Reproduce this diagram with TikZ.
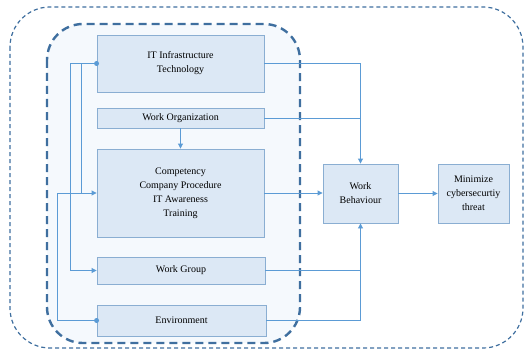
\documentclass[tikz,border=0pt]{standalone}
\usepackage{fontspec}
\setmainfont{Liberation Serif}
\usetikzlibrary{arrows.meta}
\definecolor{boxfill}{HTML}{DCE8F5}
\definecolor{boxline}{HTML}{8AAED2}
\definecolor{wire}{HTML}{5B9BD5}
\definecolor{dashblue}{HTML}{3F6F9F}
\definecolor{groupfill}{HTML}{F5F9FD}
\begin{document}
\begin{tikzpicture}[x=1pt,y=-1pt,
  box/.style={draw=boxline, fill=boxfill, line width=0.9pt, align=center,
    font=\fontsize{10}{14}\selectfont, inner sep=0pt},
  wire/.style={draw=wire, line width=0.9pt},
  arr/.style={wire, -{Triangle[length=5pt,width=5pt]}},
  dot/.style={circle, fill=wire, inner sep=0pt, minimum size=5pt}]
\useasboundingbox (0,0) rectangle (525,353);
% outer frame
\draw[dashblue, line width=1.2pt, dash pattern=on 4pt off 3pt, rounded corners=40pt]
  (10,7) rectangle (523,348);
% group of factors
\draw[dashblue, fill=groupfill, line width=2.4pt, dash pattern=on 8pt off 5pt, rounded corners=36pt]
  (47,24) rectangle (300,343);

\node[box, minimum width=167, minimum height=57] (it) at (180.5,63.5) {IT Infrastructure\\Technology};
\node[box, minimum width=167, minimum height=20] (wo) at (180.5,118) {Work Organization};
\node[box, minimum width=167, minimum height=88] (comp) at (180.5,193) {Competency\\Company Procedure\\IT Awareness\\Training};
\node[box, minimum width=168, minimum height=27] (wg) at (181,270.5) {Work Group};
\node[box, minimum width=169, minimum height=31] (env) at (181.5,320.5) {Environment};
\node[box, minimum width=75, minimum height=59] (wb) at (360.5,193.5) {Work\\Behaviour};
\node[box, minimum width=71, minimum height=59] (min) at (473.5,193.5) {Minimize\\cybersecurtiy\\threat};

% into work behaviour
\draw[arr] (it.east) -| (wb.north);
\draw[wire] (wo.east) -- (wo.east -| wb.north);
\draw[arr] (comp.east) -- (comp.east -| wb.west);
\draw[arr] (env.east) -| (wb.south);
\draw[wire] (wg.east) -- (wg.east -| wb.south);
\draw[arr] (wb.east) -- (wb.east -| min.west);
\draw[arr] (wo.south) -- (comp.north);

% left-hand links
\coordinate (ca) at (70,0);
\coordinate (cb) at (81,0);
\coordinate (cc) at (57,0);
\draw[wire] (it.west) -- (it.west -| ca);
\draw[arr] (it.west -| ca) |- (wg.west);
\draw[arr] (it.west -| cb) |- (comp.west);
\draw[wire] (env.west) -- (env.west -| cc) |- (comp.west -| cb);
\node[dot] (d1) at (it.west) {};
\node[dot] (d2) at (env.west) {};
\end{tikzpicture}
\end{document}
